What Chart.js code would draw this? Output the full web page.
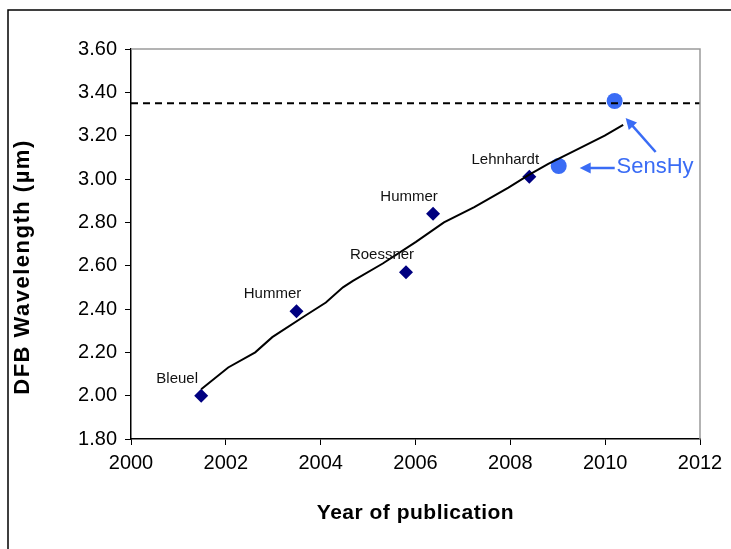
<!DOCTYPE html>
<html>
<head>
<meta charset="utf-8">
<title>DFB Wavelength by Year</title>
<script src="https://cdn.jsdelivr.net/npm/chart.js@4.4.1/dist/chart.umd.min.js"></script>
<style>
    html, body { margin: 0; padding: 0; background: #ffffff; }
    #wrap { width: 731px; height: 549px; }
</style>
</head>
<body>
<div id="wrap"><canvas id="dfbChart" width="731" height="549"></canvas></div>
<script>
// Published DFB lasers
const pubYears = [2001.48, 2003.49, 2005.80, 2006.37, 2008.40];
const pubWavelengths = [2.00, 2.39, 2.57, 2.84, 3.01];
const pubAuthors = ['Bleuel', 'Hummer', 'Roessner', 'Hummer', 'Lehnhardt'];

// SensHy devices
const sensHyYears = [2009.02, 2010.20];
const sensHyWavelengths = [3.06, 3.36];

// Hand-drawn trend
const trendYears = [2001.48, 2002.05, 2002.62, 2002.98, 2003.68, 2004.11, 2004.47, 2004.68, 2005.31,
    2006.01, 2006.60, 2007.24, 2007.96, 2008.40, 2008.80, 2009.35, 2009.99, 2010.38];
const trendWavelengths = [2.03, 2.13, 2.20, 2.27, 2.37, 2.43, 2.50, 2.53, 2.61,
    2.71, 2.80, 2.87, 2.96, 3.02, 3.07, 3.13, 3.20, 3.25];

// Target line
const targetWavelength = 3.35;

// Axes
const yearMin = 2000, yearMax = 2012, yearStep = 2;
const waveMin = 1.80, waveMax = 3.60, waveStep = 0.20;

const BLUE = '#3a6cf5';
const NAVY = '#000080';
const FONT = "'Liberation Sans', Arial, sans-serif";

function toPoints(xs, ys) {
    return xs.map((x, i) => ({ x: x, y: ys[i] }));
}

function drawArrow(ctx, x1, y1, x2, y2) {
    const ang = Math.atan2(y2 - y1, x2 - x1);
    const head = 11, half = 5.5;
    ctx.save();
    ctx.strokeStyle = BLUE;
    ctx.fillStyle = BLUE;
    ctx.lineWidth = 2.5;
    ctx.beginPath();
    ctx.moveTo(x1, y1);
    ctx.lineTo(x2 - Math.cos(ang) * head * 0.8, y2 - Math.sin(ang) * head * 0.8);
    ctx.stroke();
    ctx.beginPath();
    ctx.moveTo(x2, y2);
    ctx.lineTo(x2 - Math.cos(ang) * head - Math.sin(ang) * half, y2 - Math.sin(ang) * head + Math.cos(ang) * half);
    ctx.lineTo(x2 - Math.cos(ang) * head + Math.sin(ang) * half, y2 - Math.sin(ang) * head - Math.cos(ang) * half);
    ctx.closePath();
    ctx.fill();
    ctx.restore();
}

// Frame, plot border, axis titles and annotations
const decorations = {
    id: 'decorations',
    beforeDraw(chart) {
        const ctx = chart.ctx;
        ctx.save();
        ctx.strokeStyle = '#000';
        ctx.lineWidth = 1.5;
        ctx.beginPath();
        ctx.moveTo(8, chart.height);
        ctx.lineTo(8, 10);
        ctx.lineTo(chart.width, 10);
        ctx.stroke();
        ctx.restore();
    },
    afterDraw(chart) {
        const ctx = chart.ctx;
        const a = chart.chartArea;

        // gray top/right border of plot area
        ctx.save();
        ctx.strokeStyle = '#9a9a9a';
        ctx.lineWidth = 1.5;
        ctx.beginPath();
        ctx.moveTo(a.left, a.top);
        ctx.lineTo(a.right, a.top);
        ctx.lineTo(a.right, a.bottom);
        ctx.stroke();
        ctx.restore();

        // axis titles
        ctx.save();
        ctx.fillStyle = '#000';
        ctx.textAlign = 'center';
        ctx.textBaseline = 'middle';
        ctx.font = 'bold 21px ' + FONT;
        ctx.letterSpacing = '0.5px';
        ctx.fillText('Year of publication', (a.left + a.right) / 2, 513);
        ctx.translate(23, 267);
        ctx.rotate(-Math.PI / 2);
        ctx.font = 'bold 22px ' + FONT;
        ctx.letterSpacing = '1.5px';
        ctx.fillText('DFB Wavelength (\u00b5m)', 0, 0);
        ctx.restore();

        // author labels
        const pubMeta = chart.getDatasetMeta(2);
        ctx.save();
        ctx.fillStyle = '#111';
        ctx.font = '15px ' + FONT;
        ctx.textAlign = 'center';
        ctx.textBaseline = 'middle';
        pubMeta.data.forEach((pt, i) => {
            ctx.fillText(pubAuthors[i], pt.x - 24, pt.y - 17);
        });
        ctx.restore();

        // SensHy callout
        const sMeta = chart.getDatasetMeta(3);
        const p1 = sMeta.data[0], p2 = sMeta.data[1];
        ctx.save();
        ctx.fillStyle = BLUE;
        ctx.font = '22px ' + FONT;
        ctx.textAlign = 'center';
        ctx.textBaseline = 'middle';
        ctx.fillText('SensHy', 655, p1.y + 1);
        ctx.restore();
        drawArrow(ctx, p1.x + 56, p1.y + 2, p1.x + 21, p1.y + 2);
        drawArrow(ctx, p2.x + 41, p2.y + 51, p2.x + 11, p2.y + 17);
    }
};

new Chart(document.getElementById('dfbChart'), {
    type: 'scatter',
    data: {
        datasets: [
            {
                label: 'Target',
                data: toPoints([yearMin, yearMax], [targetWavelength, targetWavelength]),
                showLine: true,
                borderColor: '#000',
                borderWidth: 2,
                borderDash: [7, 5],
                pointRadius: 0,
                order: 0
            },
            {
                label: 'Trend',
                data: toPoints(trendYears, trendWavelengths),
                showLine: true,
                borderColor: '#000',
                borderWidth: 2,
                tension: 0,
                pointRadius: 0,
                order: 1
            },
            {
                label: 'Published',
                data: toPoints(pubYears, pubWavelengths),
                pointStyle: 'rectRot',
                pointRadius: 7,
                pointBackgroundColor: NAVY,
                pointBorderColor: NAVY,
                pointBorderWidth: 0,
                order: 2
            },
            {
                label: 'SensHy',
                data: toPoints(sensHyYears, sensHyWavelengths),
                pointStyle: 'circle',
                pointRadius: 8,
                pointBackgroundColor: BLUE,
                pointBorderColor: BLUE,
                pointBorderWidth: 0,
                order: 3
            }
        ]
    },
    options: {
        responsive: false,
        animation: false,
        layout: {
            padding: { top: 49, right: 31, left: 0, bottom: 0 }
        },
        plugins: {
            legend: { display: false },
            tooltip: { enabled: false }
        },
        scales: {
            x: {
                type: 'linear',
                min: yearMin,
                max: yearMax,
                afterFit: (scale) => { scale.height = 110; },
                ticks: {
                    stepSize: yearStep,
                    color: '#000',
                    padding: 6,
                    font: { family: FONT, size: 20 },
                    callback: (v) => String(v)
                },
                grid: {
                    drawOnChartArea: false,
                    drawTicks: true,
                    tickLength: 6,
                    color: '#000'
                },
                border: { color: '#000', width: 1.5 }
            },
            y: {
                min: waveMin,
                max: waveMax,
                afterFit: (scale) => { scale.width = 131; },
                ticks: {
                    stepSize: waveStep,
                    color: '#000',
                    padding: 8,
                    font: { family: FONT, size: 20 },
                    callback: (v) => Number(v).toFixed(2)
                },
                grid: {
                    drawOnChartArea: false,
                    drawTicks: true,
                    tickLength: 6,
                    color: '#000'
                },
                border: { color: '#000', width: 1.5 }
            }
        }
    },
    plugins: [decorations]
});
</script>
</body>
</html>
